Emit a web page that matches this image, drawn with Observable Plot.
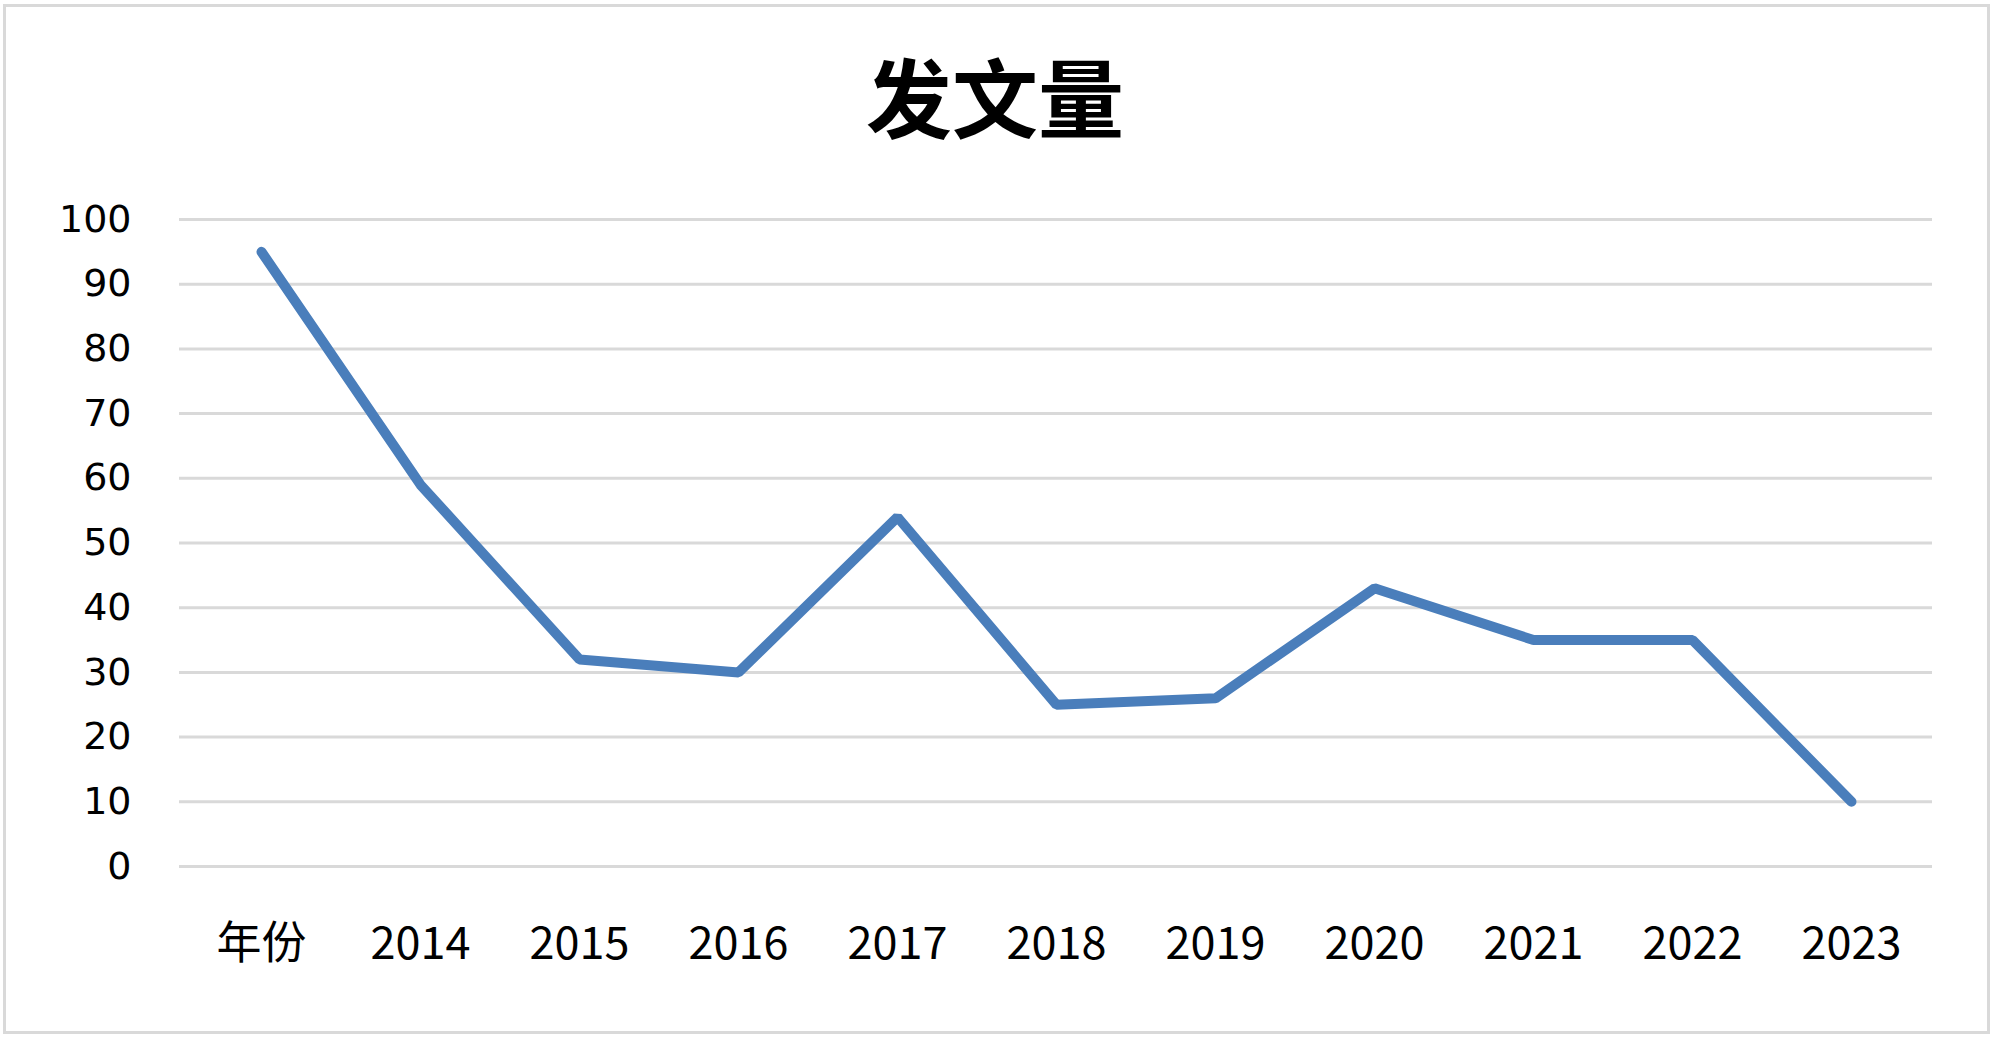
<!DOCTYPE html>
<html>
<head>
<meta charset="utf-8">
<script src="https://cdn.jsdelivr.net/npm/d3@7"></script>
<script src="https://cdn.jsdelivr.net/npm/@observablehq/plot@0.6"></script>
<style>
  html, body { margin: 0; padding: 0; background: #fff; }
  #page { position: relative; width: 2000px; height: 1045px; overflow: hidden; }
  #frame { position: absolute; left: 3px; top: 4px; width: 1987px; height: 1030px; border: 3px solid #d9d9d9; box-sizing: border-box; pointer-events: none; }
  #title { position: absolute; top: 52px; left: 0; width: 1990px; text-align: center; font-family: "Noto Sans CJK SC", sans-serif; font-weight: 700; font-size: 86px; line-height: 1; color: #000; }
  #chart { position: absolute; top: 160px; left: 0; }
</style>
</head>
<body>
<div id="page">
  <div id="title">发文量</div>
  <div id="chart"></div>
  <div id="frame"></div>
</div>
<script>
const categories = ["年份", "2014", "2015", "2016", "2017", "2018", "2019", "2020", "2021", "2022", "2023"];
const values = [95, 59, 32, 30, 54, 25, 26, 43, 35, 35, 10];
const yTicks = [0, 10, 20, 30, 40, 50, 60, 70, 80, 90, 100];

const data = categories.map((c, i) => ({cat: c, v: values[i]}));

const chart = Plot.plot({
  width: 2000,
  height: 870,
  marginLeft: 179,
  marginRight: 68,
  marginTop: 59,
  marginBottom: 164,
  x: {type: "point", domain: categories, padding: 0.5},
  y: {domain: [0, 100]},
  style: {background: "transparent"},
  marks: [
    Plot.ruleY(yTicks, {stroke: "#d9d9d9", strokeWidth: 3}),
    Plot.axisY({ticks: yTicks, tickSize: 0, tickPadding: 48, fontSize: 38, fontFamily: "DejaVu Sans", fill: "#000", label: null}),
    Plot.axisX({tickSize: 0, tickPadding: 61, fontSize: 45, fontFamily: "'Liberation Sans Narrow', 'Noto Sans CJK SC', sans-serif", fill: "#000", label: null}),
    Plot.line(data, {x: "cat", y: "v", stroke: "#4a7ebb", strokeWidth: 10, strokeLinejoin: "miter", strokeLinecap: "round"})
  ]
});
document.getElementById("chart").appendChild(chart);
</script>
</body>
</html>
